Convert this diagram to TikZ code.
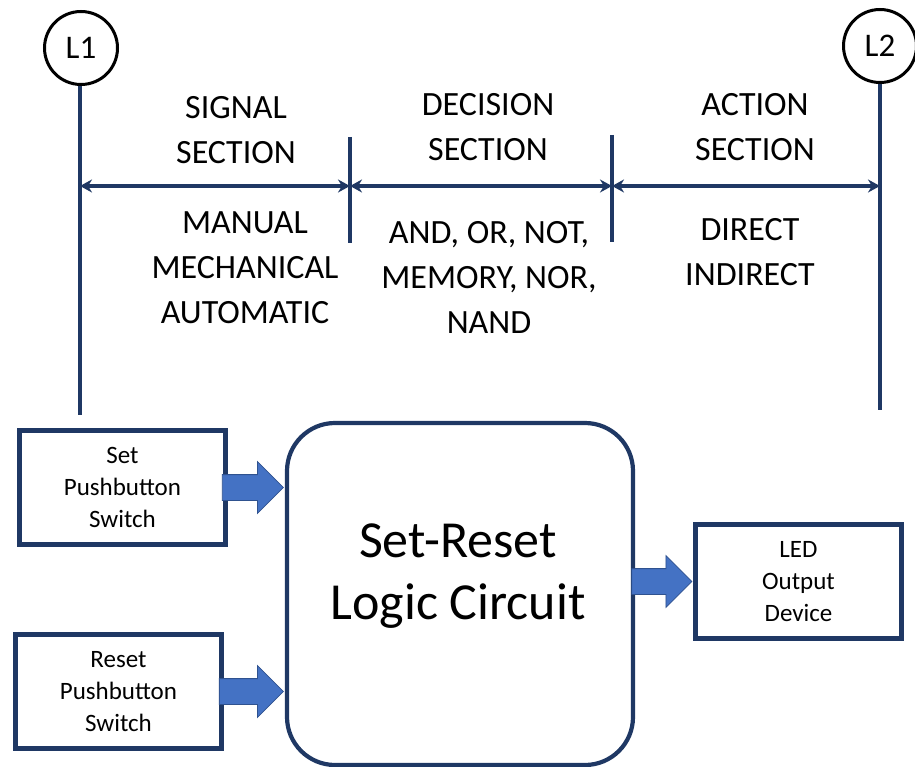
\documentclass[tikz,border=0pt]{standalone}
\usepackage{fontspec}
\setmainfont{Carlito}
\usetikzlibrary{calc,arrows.meta,shapes.arrows}

\definecolor{LineNavy}{HTML}{1F3864}
\definecolor{ArrowFill}{HTML}{4472C4}
\definecolor{ArrowEdge}{HTML}{2F528F}

\tikzset{
  railstyle/.style={draw=LineNavy, line width=3.6pt},
  spanstyle/.style={draw=LineNavy, line width=3.6pt, {Stealth[length=12pt,width=13pt]}-{Stealth[length=12pt,width=13pt]}},
  linecircle/.style={circle, draw=black, line width=3pt, minimum size=73pt, inner sep=0pt, font=\fontsize{33}{36}\selectfont},
  sectiontext/.style={align=center, font=\fontsize{34}{45}\selectfont},
  devicebox/.style={draw=LineNavy, line width=4.2pt, minimum width=206pt, minimum height=114pt, align=center, font=\fontsize{25}{32}\selectfont},
  blockarrow/.style={single arrow, draw=ArrowEdge, line width=0.8pt, fill=ArrowFill, inner sep=0pt, single arrow head extend=13pt, shape border rotate=0, anchor=tip},
}

\begin{document}
\begin{tikzpicture}[x=1pt,y=-1pt]

 \useasboundingbox (0,0) rectangle (915,767);

 %%%%%%%%%% Points pour travailler %%%%%%%%%%
 \coordinate (L1end) at (80,415);
 \coordinate (L2end) at (880,410);
 \coordinate (div1top) at (350,137);
 \coordinate (div1bot) at (350,243);
 \coordinate (div2top) at (612,135);
 \coordinate (div2bot) at (612,242);
 \coordinate (span0) at (80,186);
 \coordinate (span1) at (350,186);
 \coordinate (span2) at (612,186);
 \coordinate (span3) at (880,186);

 % Line circles and rails
 \node[linecircle] (L1) at (81,48) {L1};
 \node[linecircle] (L2) at (880,46) {L2};
 \draw[railstyle] (L1.south -| L1end) -- (L1end);
 \draw[railstyle] (L2.south) -- (L2end);

 % Sections
 \draw[railstyle] (div1top) -- (div1bot);
 \draw[railstyle] (div2top) -- (div2bot);
 \draw[spanstyle] (span0) -- (span1);
 \draw[spanstyle] (span1) -- (span2);
 \draw[spanstyle] (span2) -- (span3);

 \node[sectiontext] (signal) at (236,130) {SIGNAL\\SECTION};
 \node[sectiontext] (decision) at (488,127) {DECISION\\SECTION};
 \node[sectiontext] (action) at (755,127) {ACTION\\SECTION};
 \node[sectiontext] (signaltypes) at (245,268) {MANUAL\\MECHANICAL\\AUTOMATIC};
 \node[sectiontext] (decisiontypes) at (489,277) {AND, OR, NOT,\\MEMORY, NOR,\\NAND};
 \node[sectiontext] (actiontypes) at (750,252) {DIRECT\\INDIRECT};

 % Devices
 \node[devicebox] (set) at (122.5,487.5) {Set\\Pushbutton\\Switch};
 \node[devicebox] (reset) at (118.5,691.5) {Reset\\Pushbutton\\Switch};
 \node[devicebox] (led) at (798.5,581.5) {LED\\Output\\Device};

 % Logic circuit
 \node[draw=LineNavy, line width=4.2pt, rounded corners=48pt, minimum width=346pt, minimum height=342pt] (logic) at (460,594) {};
 \node[align=center, font=\fontsize{52}{62}\selectfont] (logictext) at ($(logic.center)+(-2,-18)$) {Set-Reset\\Logic Circuit};

 % Block arrows
 \node[blockarrow, minimum height=61pt] (setarrow) at ($(logic.west |- set.east)+(-1,0)$) {\rule[-12.5pt]{0pt}{25pt}};
 \node[blockarrow, minimum height=64pt] (resetarrow) at ($(logic.west |- reset.east)+(-1,0)$) {\rule[-12.5pt]{0pt}{25pt}};
 \node[blockarrow, minimum height=60pt] (ledarrow) at ($(led.west)+(-1,0)$) {\rule[-12.5pt]{0pt}{25pt}};

\end{tikzpicture}
\end{document}
